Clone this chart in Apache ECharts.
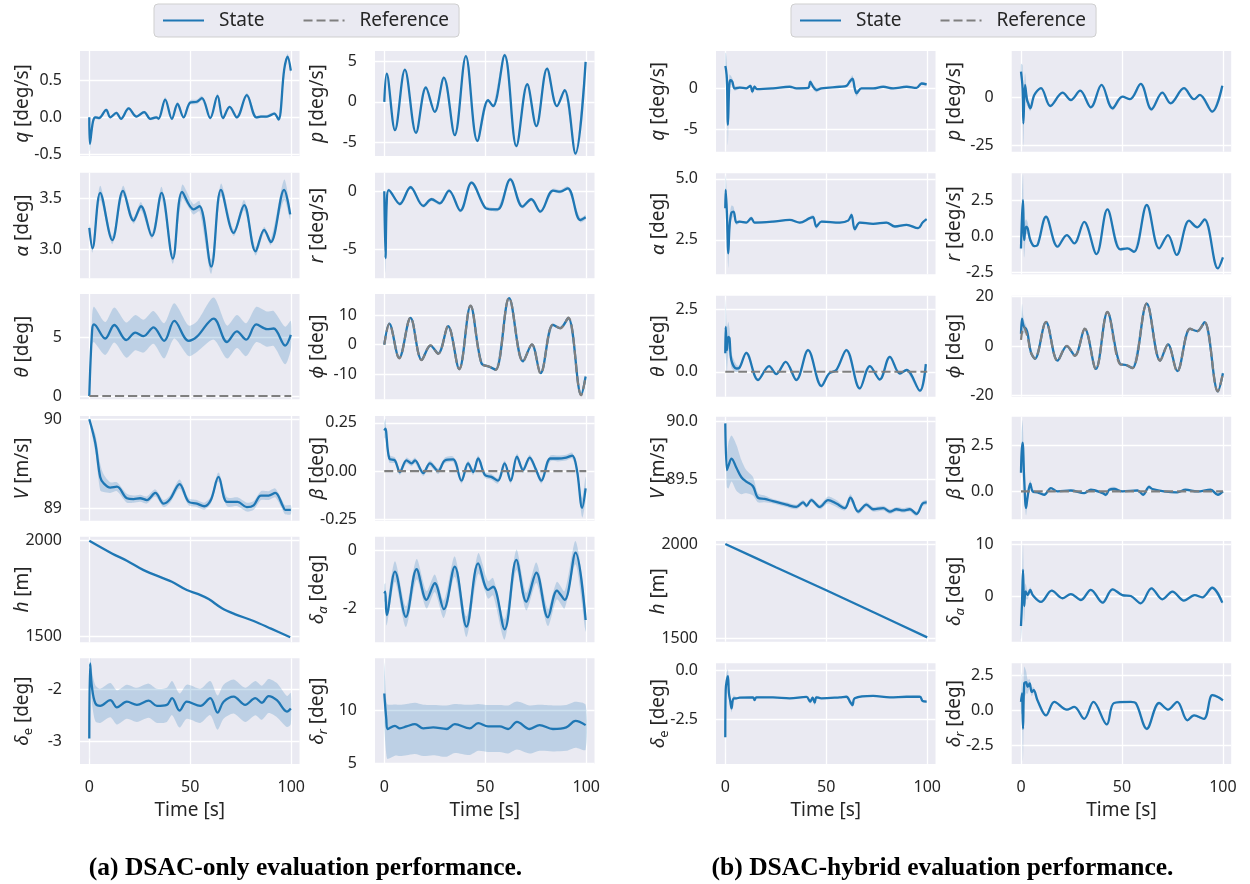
<!DOCTYPE html>
<html><head><meta charset="utf-8">
<script src="https://cdn.jsdelivr.net/npm/echarts@6/dist/echarts.min.js"></script>
<style>html,body{margin:0;padding:0;background:#fff}#c{width:1250px;height:884px}</style>
</head><body><div id="c"></div>
<script>
// ---------- DATA: [time, mean, band-down, (band-up)] ----------
const aQ=[[0,0,0.03],[0.3,-0.36,0.1],[1.8,-0.06,0.04],[3,0.0,0.02],[4.8,-0.01,0.02],[8.4,0.1,0.02],[10.4,0,0.02],[13.4,0.06,0.02],[15.7,-0.02,0.02],[19.5,0.12,0.02],[23.3,0.01,0.02],[27.2,0.07,0.02],[30.2,-0.02,0.02],[33.2,0,0.02],[34.3,-0.02,0.02],[37.6,0.24,0.03],[40.9,-0.02,0.02],[43.7,0.18,0.03],[46.7,0,0.02],[50,0.2,0.03],[53.3,0.21,0.03],[55.8,0.26,0.03],[59.9,-0.01,0.02],[63.5,0.29,0.03],[66.2,-0.01,0.02],[69.5,0.14,0.02],[73.1,0,0.02],[78,0.3,0.03],[82.7,0,0.02],[85,0.01,0.02],[88,0.01,0.02],[91.6,0.05,0.02],[93.7,-0.03,0.02],[96.5,0.64,0.04],[98.2,0.82,0.04],[99.8,0.63,0.04]];
const aAlpha=[[0,3.21,0.04],[1.6,3.01,0.04],[5.4,3.55,0.07],[11.4,3.09,0.04],[16.7,3.57,0.05],[21.9,3.28,0.03],[25.6,3.42,0.04],[31,3.13,0.03],[35.8,3.55,0.06],[41.4,2.91,0.05],[46,3.56,0.07],[51.6,3.39,0.05],[54.6,3.42,0.05],[60.4,2.83,0.07],[65.2,3.58,0.06],[71.5,3.16,0.03],[76.7,3.43,0.05],[82.3,2.98,0.04],[86.6,3.19,0.03],[89.9,3.07,0.03],[96.5,3.58,0.1],[99.5,3.34,0.05]];
const aTheta=[[0,0,0],[1.4,5.6,1.2],[2.3,6.1,1.5],[7.9,4.9,1.4],[12.4,6.05,1.5],[18.3,4.77,1.5],[22.8,5.4,1.5],[26.9,5.1,1.4],[31.8,5.85,1.4],[37.1,4.7,1.5],[42.1,6.4,1.5],[49.2,4.7,1.3],[53.3,5.05,1.3],[61.6,6.6,1.8],[68.2,4.6,1.4],[73.1,5.5,1.4],[77.7,4.8,1.4],[82.7,6.1,1.5],[88,5.7,1.5],[91.3,5.75,1.5],[97,4.3,1.6],[99.8,5.2,1.2]];
const aThetaRef=[[0,0],[100,0]];
const aV=[[0,90.0,0.01],[3,89.73,0.1],[5.4,89.35,0.15],[7.1,89.28,0.1],[10.4,89.23,0.06],[13.7,89.24,0.05],[18.6,89.11,0.05],[21.9,89.1,0.04],[25.2,89.11,0.04],[28.5,89.09,0.04],[32.7,89.17,0.04],[36.8,89.05,0.04],[40,89.1,0.04],[44.7,89.27,0.05],[49.2,89.07,0.04],[53.3,89.05,0.04],[56.9,89.02,0.04],[60.2,89.09,0.04],[64,89.35,0.05],[68.2,89.07,0.05],[73.4,89.07,0.05],[78,89.01,0.05],[81.4,89.03,0.05],[85,89.14,0.05],[88.8,89.14,0.05],[92.1,89.17,0.05],[95.9,89.02,0.05],[97,88.98,0.05],[99.8,88.98,0.05]];
const aH=[[0,2000,0],[11.2,1934,0],[18.6,1896,0],[26.9,1847,0],[40.9,1786,0],[48.3,1743,0],[54,1722,0],[59.1,1696,0],[65.7,1648,0],[72,1618,0],[81.4,1582,0],[90,1542,0],[99.5,1497,0]];
const aDe=[[0,-2.95,0.4],[0.4,-1.5,0.15],[1.3,-1.95,0.3],[3,-2.27,0.35],[5.4,-2.32,0.33],[10.4,-2.21,0.33],[13.7,-2.35,0.33],[18.6,-2.24,0.33],[23.6,-2.3,0.33],[29.4,-2.22,0.33],[33.5,-2.32,0.33],[38.4,-2.3,0.33],[41,-2.17,0.33],[44.7,-2.41,0.33],[48.3,-2.24,0.33],[55,-2.32,0.33],[59.9,-2.17,0.33],[63.5,-2.45,0.33],[66.5,-2.24,0.33],[71.5,-2.14,0.33],[77.2,-2.3,0.33],[82.2,-2.17,0.33],[85.5,-2.26,0.33],[88.8,-2.13,0.33],[92.9,-2.21,0.33],[97.9,-2.43,0.3],[99.8,-2.37,0.3]];
const aP=[[0,0,0.1],[1.2,3.47,0.15],[5.3,-3.47,0.15],[10.2,3.96,0.15],[15.7,-3.8,0.15],[20.6,1.76,0.15],[25,-1.22,0.15],[29.5,2.98,0.15],[34.9,-4.08,0.15],[40.4,5.6,0.2],[46.1,-4.78,0.2],[51.4,0.2,0.15],[53.9,-0.53,0.15],[59.6,5.71,0.2],[65.4,-5.43,0.2],[70.8,2.16,0.15],[75.3,-2.98,0.15],[80.6,4.08,0.15],[85.5,-0.53,0.15],[89.3,1.43,0.15],[94.7,-6.33,0.2],[99.7,4.9,0.2]];
const aR=[[0,0,0.1],[0.6,-5.8,1.3],[1.2,-1.0,0.5],[2.2,0.1,0.15],[7.7,-1.1,0.15],[13,0.35,0.15],[19.3,-1.27,0.15],[23.4,-0.69,0.15],[27.5,-1.04,0.15],[32.1,0.06,0.15],[37.7,-1.68,0.15],[43.2,0.75,0.15],[49.8,-1.39,0.15],[53,-1.56,0.15],[56.3,-1.56,0.15],[62.4,1.04,0.15],[68.4,-1.33,0.15],[72.8,-0.69,0.15],[77.3,-1.76,0.15],[83.5,0.06,0.15],[87.1,-0.03,0.15],[90.9,0.26,0.15],[97,-2.49,0.2],[99.7,-2.25,0.2]];
const aPhi=[[0,0,0.2],[2.5,7.1,0.3],[7.4,-4.5,0.3],[13,9.0,0.3],[18.5,-5.1,0.3],[22.9,-0.3,0.3],[26.7,-3.0,0.3],[31.6,6.2,0.3],[37.1,-8.2,0.3],[42.7,13.1,0.3],[48.1,-6.2,0.3],[52.2,-7.5,0.3],[55.2,-8.4,0.3],[61.8,15.7,0.3],[68.7,-5.6,0.3],[73.1,0,0.3],[77.4,-9.6,0.3],[83.5,6.7,0.3],[87.1,5.6,0.3],[91.1,9.0,0.3],[97.5,-16.9,0.5],[99.7,-10.7,0.5]];
const aPhiRef=[[0,0],[2.5,7.0],[7.4,-4.6],[13,9.1],[18.5,-5.2],[22.9,-0.2],[26.7,-3.1],[31.6,6.3],[37.1,-8.3],[42.7,13.2],[48.1,-6.3],[52.2,-7.4],[55.2,-8.5],[61.8,15.8],[68.7,-5.7],[73.1,0.1],[77.4,-9.7],[83.5,6.8],[87.1,5.5],[91.1,9.1],[97.5,-17.0],[99.7,-11.0]];
const aBeta=[[0,0.21,0.04],[0.5,0.22,0.05],[2.5,0.064,0.02],[5.3,0.055,0.015],[7.7,-0.005,0.015],[11,0.055,0.015],[13.5,0.04,0.015],[15.2,0.055,0.015],[19.3,-0.01,0.015],[22.6,0.04,0.015],[26.7,0,0.015],[30,0.055,0.015],[34.1,0.06,0.015],[38.2,-0.05,0.015],[41.5,0.04,0.015],[44,-0.005,0.015],[46.5,0.065,0.015],[49.8,-0.02,0.015],[53,-0.03,0.015],[56.3,-0.05,0.015],[59.6,0.04,0.015],[62.6,-0.05,0.015],[65.7,0.075,0.015],[68.7,0.005,0.015],[72,0.07,0.015],[75,0.01,0.015],[77.8,-0.05,0.015],[82.2,0.065,0.015],[86,0.065,0.015],[90.1,0.07,0.015],[93.1,0.08,0.015],[95.4,0.005,0.02],[98,-0.19,0.05],[99.7,-0.09,0.06]];
const aBetaRef=[[0,0],[100,0]];
const aDa=[[0,-1.49,0.3],[0.5,-1.43,0.3],[1.2,-2.23,0.35],[5.3,-0.74,0.35],[10.7,-2.29,0.35],[16,-0.66,0.35],[20.9,-1.71,0.3],[25,-1.14,0.3],[29.5,-2.03,0.3],[34.9,-0.57,0.35],[40.7,-2.63,0.35],[46.5,-0.46,0.35],[51.4,-1.37,0.3],[53.9,-1.26,0.3],[59.6,-2.72,0.35],[65.4,-0.34,0.35],[70.3,-1.77,0.3],[75.3,-0.78,0.35],[81,-2.31,0.3],[85.5,-1.39,0.3],[89.3,-1.71,0.3],[94.7,-0.09,0.4],[99.7,-2.4,0.4]];
const aDr=[[0,11.57,3.0,2.9],[1,9.16,3.3,1.8],[1.6,8.25,2.8,2.3],[5.3,8.55,2.8,2.0],[7.7,8.31,2.6,2.2],[11,8.49,2.7,2.1],[15.2,8.7,2.8,2.0],[19.3,8.31,2.6,2.2],[24.2,8.4,2.6,2.1],[30.8,8.25,2.6,2.2],[34.9,8.7,2.7,1.9],[42.3,8.31,2.5,2.2],[46.5,8.8,2.6,1.8],[51.4,8.49,2.4,2.0],[57.2,8.49,2.4,2.0],[61.3,8.25,2.3,2.2],[65.7,8.92,2.6,1.9],[72,8.25,2.3,2.2],[76.9,8.61,2.4,1.9],[83.5,8.25,2.1,2.2],[90.1,8.4,2.2,2.1],[94.7,9.0,2.5,1.8],[99.7,8.61,2.3,1.9]];

const bQ=[[0,2.76,1.5],[0.3,2.4,2],[0.8,1.2,2],[1.3,-4.5,2.5],[2,0.5,1.2],[2.6,1.0,0.6],[3.5,0.8,0.4],[4.6,0,0.3],[7.1,0.1,0.15],[10.4,0,0.1],[12.4,0.3,0.2],[13.4,-0.4,0.3],[14.5,0.2,0.2],[15.7,-0.1,0.1],[23.6,0,0.1],[31.9,0.2,0.1],[35.2,0,0.1],[41,0.05,0.1],[42.1,0.8,0.3],[43.5,0.2,0.3],[45.1,-0.2,0.3],[47.6,0,0.1],[56.7,0.2,0.1],[60,0.3,0.15],[61.7,0.87,0.3],[63,1.2,0.4],[64.1,0,0.4],[65,-0.6,0.4],[67.4,0,0.1],[73.2,0,0.1],[78.2,0.2,0.1],[83.1,0,0.1],[89.8,0.2,0.1],[94.7,0.05,0.1],[97.2,0.6,0.15],[99.7,0.5,0.15]];
const bAlpha=[[0,3.8,0.5],[0.2,4.55,0.6],[0.8,3.6,0.8],[1.5,1.95,0.6],[2.1,3.05,0.4],[3,3.6,0.3],[4.1,3.66,0.2],[5.5,3.21,0.1],[7.1,3.25,0.05],[10.4,3.21,0.05],[12.9,3.39,0.08],[14.5,3.21,0.05],[23.6,3.25,0.04],[31.9,3.32,0.04],[36.9,3.21,0.04],[41.8,3.39,0.06],[43.5,3.43,0.1],[45.1,3.05,0.1],[47.6,3.25,0.05],[56.7,3.21,0.04],[60.8,3.29,0.05],[62.5,3.52,0.1],[64.1,2.94,0.1],[66.6,3.21,0.05],[73.2,3.16,0.04],[79.8,3.21,0.04],[84,3.05,0.04],[89.8,3.12,0.04],[95.5,2.98,0.04],[97.7,3.21,0.04],[99.7,3.35,0.04]];
const bTheta=[[0,0.74,0.3],[0.2,1.8,1.1],[0.8,0.87,0.9],[1.5,1.4,0.6],[2.1,1.34,0.4],[3,0.47,0.3],[5.5,0.13,0.15],[7.1,0.17,0.08],[10.4,0.76,0.06],[16.2,-0.33,0.05],[21.7,0.23,0.05],[25.3,-0.09,0.05],[29.9,0.4,0.05],[35.2,-0.33,0.05],[41,0.87,0.06],[47.6,-0.57,0.06],[51.4,-0.07,0.05],[55,0.07,0.05],[60,0.87,0.06],[66.6,-0.67,0.06],[71.6,0.23,0.05],[76.5,-0.31,0.05],[81.5,0.6,0.05],[86.4,-0.07,0.05],[89.8,0.07,0.05],[96.4,-0.76,0.06],[99.3,0.31,0.06]];
const bThetaRef=[[0,0],[100,0]];
const bV=[[0,89.985,0.01],[0.8,89.58,0.15],[1.6,89.62,0.2],[3.1,89.68,0.2],[5.5,89.6,0.2],[7.9,89.52,0.15],[10.4,89.48,0.1],[13.7,89.44,0.08],[16.2,89.34,0.04],[19.5,89.33,0.03],[23.6,89.31,0.02],[30.2,89.28,0.02],[35.2,89.26,0.02],[38.5,89.3,0.02],[40.2,89.27,0.02],[42.6,89.32,0.02],[46.8,89.26,0.02],[50.9,89.32,0.03],[55,89.29,0.03],[59.2,89.25,0.02],[62,89.34,0.03],[65.8,89.22,0.02],[69.9,89.28,0.02],[73.2,89.24,0.02],[78.2,89.25,0.02],[81.5,89.22,0.02],[84.8,89.24,0.02],[88.1,89.23,0.02],[91.4,89.24,0.02],[94.7,89.2,0.02],[97.7,89.29,0.02],[99.7,89.3,0.02]];
const bH=[[0,2000,0],[25,1877,0],[50,1755,0],[75,1630,0],[100,1505,0]];
const bDe=[[0,-3.45,1.1],[0.2,-1.0,0.6],[1.3,-0.28,0.35],[1.8,-1.17,0.3],[2.5,-1.6,0.3],[3.1,-1.95,0.2],[4.1,-1.43,0.15],[5.5,-1.43,0.05],[7.1,-1.4,0.04],[13.7,-1.38,0.04],[14.5,-1.52,0.08],[15.4,-1.38,0.05],[23.6,-1.38,0.03],[31.9,-1.43,0.03],[40.2,-1.36,0.04],[42.1,-1.6,0.1],[43.2,-1.4,0.1],[44.3,-1.65,0.15],[45.1,-1.38,0.08],[47.6,-1.43,0.03],[56.7,-1.38,0.03],[60,-1.35,0.05],[62,-1.65,0.12],[63,-1.78,0.12],[64.1,-1.43,0.06],[73.2,-1.31,0.03],[81.5,-1.38,0.03],[89.8,-1.35,0.03],[96.4,-1.35,0.03],[97.7,-1.57,0.05],[99.7,-1.6,0.05]];
const bP=[[0,13.3,4],[0.8,4.7,12],[1.2,-13.4,12],[2,6.4,6],[3,-1.4,3],[3.6,-3.1,2],[4.6,-5.7,1.5],[6.6,1.2,0.8],[9.9,4.7,0.6],[14.5,-4.5,0.6],[20.6,2.4,0.5],[24.7,-1.4,0.5],[29.3,3.4,0.5],[34.6,-5.2,0.6],[39.9,6.4,0.6],[45.3,-5.7,1.0],[50.2,0.3,0.5],[54,-1.0,0.5],[59.3,6.9,0.6],[64.6,-6.2,1.0],[70,2.4,0.5],[74.1,-3.1,0.5],[80.7,4.7,0.5],[85.7,-1.0,0.5],[88.6,1.2,0.5],[94.7,-7.4,0.7],[99.7,5.9,0.6]];
const bR=[[0,-0.83,0.3],[0.5,1.35,1.5],[1,2.5,1.8],[1.6,-0.25,1.2],[2.5,0.67,0.5],[3.3,0.55,0.4],[4.6,-0.25,0.2],[6.6,-0.67,0.08],[8.2,-0.6,0.06],[12.4,1.35,0.05],[18.1,-0.71,0.05],[22.7,0.09,0.05],[26.4,-0.48,0.05],[31.3,1.0,0.05],[37.4,-1.22,0.05],[42.8,1.86,0.06],[49.1,-0.89,0.05],[52.7,-0.83,0.05],[56,-1.06,0.05],[62.3,2.16,0.06],[68.4,-0.83,0.05],[72.8,0.09,0.05],[77.1,-1.28,0.05],[83.2,1.08,0.05],[87.3,0.62,0.05],[90.9,1.17,0.05],[97.5,-2.2,0.06],[100,-1.44,0.06]];
const bPhi=[[0,5,1.5],[0.5,11.1,6],[1,9,4],[1.6,7.7,2.5],[2.5,7.0,1.5],[3.3,5.0,0.8],[4.9,-2.4,0.5],[6.9,-5.1,0.4],[12.4,9.7,0.3],[18.1,-5.8,0.3],[22.7,0,0.3],[26.7,-3.8,0.3],[31.6,7.0,0.3],[37.1,-9.2,0.3],[42.8,13.8,0.3],[49.1,-7.2,0.3],[51.9,-7.6,0.3],[55.2,-8.8,0.3],[62.3,17.2,0.3],[68.9,-5.8,0.3],[72.8,0.7,0.3],[77.4,-10.1,0.3],[83.7,7.0,0.3],[87.3,6.1,0.3],[90.9,9.7,0.3],[97.5,-18.2,0.5],[100,-10.9,0.5]];
const bPhiRef=[[0,2.6],[1.3,7.7],[3.3,3.6],[4.9,-2.5],[6.9,-5.0],[12.4,9.8],[18.1,-5.9],[22.7,0.1],[26.7,-3.9],[31.6,7.1],[37.1,-9.3],[42.8,13.9],[49.1,-7.3],[51.9,-7.5],[55.2,-8.9],[62.3,17.3],[68.9,-5.9],[72.8,0.6],[77.4,-10.2],[83.7,7.1],[87.3,6.0],[90.9,9.8],[97.5,-18.3],[100,-11.0]];
const bBeta=[[0,1.0,0.3],[0.3,2.08,1.0],[0.8,2.63,1.2],[1.6,0.63,0.8],[2.5,-0.9,0.4],[3.3,-0.27,0.3],[4.6,0.42,0.2],[5.8,0,0.1],[8.2,-0.05,0.05],[11.5,-0.18,0.05],[14.8,0.18,0.06],[18.1,0,0.04],[24.7,0.05,0.04],[31.3,-0.09,0.04],[34.6,0.09,0.04],[40.4,-0.09,0.05],[42,-0.18,0.1],[43.7,0.09,0.1],[46.1,0.13,0.12],[50.2,0,0.04],[57.7,0.05,0.04],[60.5,-0.18,0.08],[63.4,0.24,0.12],[65.1,0.13,0.06],[70.8,0,0.04],[77.4,-0.05,0.04],[81.5,0.09,0.04],[87.3,0,0.04],[93.9,0.09,0.04],[97.5,-0.18,0.05],[100,0,0.05]];
const bBetaRef=[[0,0],[100,0]];
const bDa=[[0,-5.6,2.5],[0.5,-1.3,4],[1,5.1,5],[1.6,-1.8,3],[2.3,1.0,1.5],[3.3,0.3,0.8],[4.6,1.3,0.5],[5.8,0.3,0.3],[9.9,-1.0,0.2],[15.2,1.15,0.2],[20.6,-0.3,0.2],[24.7,0.5,0.2],[29.7,-0.64,0.2],[34.6,1.3,0.2],[40.4,-1.15,0.25],[45.3,1.4,0.25],[50.2,0.3,0.2],[54.4,0.13,0.2],[59.3,-1.27,0.2],[64.6,1.6,0.25],[70,-0.5,0.2],[75,0.96,0.2],[80.7,-0.76,0.2],[86,0.3,0.2],[89.8,-0.13,0.2],[94.7,1.7,0.25],[99.7,-1.15,0.25]];
const bDr=[[0,0.6,0.8],[0.5,1.2,1.5],[1,-1.3,2.3],[1.6,1.9,1.2],[2.5,2.0,0.8],[3.3,1.67,0.5],[4.3,1.9,0.3],[5.3,1.3,0.3],[6.3,1.43,0.2],[8.2,0.7,0.15],[12.4,-0.36,0.1],[16.5,0.6,0.08],[22.7,0.05,0.06],[26.4,0.24,0.06],[31.3,-0.6,0.06],[35.9,0.6,0.06],[42.5,-1.0,0.1],[46.1,0.52,0.06],[54.4,0.6,0.05],[56.8,0.52,0.05],[62.3,-1.31,0.12],[68.4,0.52,0.06],[72.8,0.05,0.06],[77.4,0.6,0.06],[82.4,-0.71,0.06],[85.7,-0.36,0.06],[90.6,-0.6,0.06],[94.7,1.07,0.08],[97.5,0.95,0.08],[100,0.71,0.08]];

// ---------- tick labels ----------
const xTicks=['0','50','100'];
const ticksA=[['-0.5','0.0','0.5'],['3.0','3.5'],['0','5'],['89','90'],['1500','2000'],['-3','-2'],
              ['-5','0','5'],['-5','0'],['-10','0','10'],['-0.25','0.00','0.25'],['-2','0'],['5','10']];
const ticksB=[['-5','0'],['2.5','5.0'],['0.0','2.5'],['89.5','90.0'],['1500','2000'],['-2.5','0.0'],
              ['-25','0'],['-2.5','0.0','2.5'],['-20','0','20'],['0.0','2.5'],['0','10'],['-2.5','0.0','2.5']];
const rangesA=[[-0.523,0.896],[2.717,3.747],[-0.28,8.69],[88.857,90.037],[1471,2021],[-3.445,-1.4],
               [-6.63,6.23],[-7.54,1.61],[-18.4,17.07],[-0.257,0.285],[-3.165,0.456],[4.97,14.87]];
const rangesB=[[-7.8,4.6],[1.09,5.23],[-1.0,3.05],[89.153,90.043],[1482,2016],[-4.83,0.38],
               [-28.1,23.9],[-2.61,4.34],[-20.4,20.4],[-1.5,4.02],[-8.6,10.63],[-3.8,3.33]];
const yNames=['{i|q} [deg/s]','{i|α} [deg]','{i|θ} [deg]','{i|V} [m/s]','{i|h} [m]','{i|δ}{s|e} [deg]',
              '{i|p} [deg/s]','{i|r} [deg/s]','{i|ϕ} [deg]','{i|β} [deg]','{i|δ}{si|a} [deg]','{i|δ}{si|r} [deg]'];
const seriesA=[aQ,aAlpha,aTheta,aV,aH,aDe,aP,aR,aPhi,aBeta,aDa,aDr];
const refsA=[null,null,aThetaRef,null,null,null,null,null,aPhiRef,aBetaRef,null,null];
const seriesB=[bQ,bAlpha,bTheta,bV,bH,bDe,bP,bR,bPhi,bBeta,bDa,bDr];
const refsB=[null,null,bThetaRef,null,null,null,null,null,bPhiRef,bBetaRef,null,null];

// ---------- layout ----------
const FONT='"Noto Sans","DejaVu Sans",sans-serif';
const TXT='#262626';
const BLUE='#1f77b4';
const colLeft=[80,375,716,1011.7];
const colW=219.5;
const rowsA=[[51,156],[172.7,278.3],[294,399.3],[416,520.7],[536.7,642.3],[658.3,764]];
const rowsB=[[51,151.7],[173.3,274.3],[295.7,396.7],[416.7,519.3],[541,641.7],[663.3,764]];
const XMIN=-4.6, XMAX=104.1;

const grids=[],xAxes=[],yAxes=[],series=[];
function decimalsOf(s){const k=s.indexOf('.');return k<0?0:s.length-k-1;}
function addPlot(panel,k){
  const col=(panel==='a'?0:2)+(k<6?0:1);
  const row=k%6;
  const rows=panel==='a'?rowsA:rowsB;
  const data=panel==='a'?seriesA[k]:seriesB[k];
  const ref=panel==='a'?refsA[k]:refsB[k];
  const rng=panel==='a'?rangesA[k]:rangesB[k];
  const tk=panel==='a'?ticksA[k]:ticksB[k];
  const gi=grids.length;
  grids.push({left:colLeft[col],top:rows[row][0],width:colW,height:rows[row][1]-rows[row][0],
    backgroundColor:'#eaeaf2',show:true,borderWidth:0,outerBoundsMode:'none'});
  const bottom=row===5;
  xAxes.push({gridIndex:gi,type:'value',min:XMIN,max:XMAX,
    axisLine:{show:false},axisTick:{show:false,customValues:xTicks.map(Number)},
    axisLabel:{show:bottom,customValues:xTicks.map(Number),fontSize:16,color:TXT,fontFamily:FONT,margin:15,
      formatter:v=>String(v)},
    splitLine:{show:true,lineStyle:{color:'#ffffff',width:1.3}},
    name:bottom?'Time [s]':'',nameLocation:'middle',nameGap:37,
    nameTextStyle:{fontSize:19,color:TXT,fontFamily:FONT},nameMoveOverlap:false});
  const dec=decimalsOf(tk[tk.length-1]);
  yAxes.push({gridIndex:gi,type:'value',min:rng[0],max:rng[1],
    axisLine:{show:false},axisTick:{show:false,customValues:tk.map(Number)},
    axisLabel:{customValues:tk.map(Number),fontSize:16,color:TXT,fontFamily:FONT,margin:18,
      formatter:v=>Number(v).toFixed(dec)},
    splitLine:{show:true,lineStyle:{color:'#ffffff',width:1.3}},
    name:yNames[k],nameLocation:'middle',nameRotate:90,nameGap:45,nameMoveOverlap:false,
    nameTextStyle:{fontSize:19,color:TXT,fontFamily:FONT,lineHeight:24,
      rich:{i:{fontSize:19,color:TXT,fontFamily:FONT,fontStyle:'italic',lineHeight:24},
            s:{fontSize:13,color:TXT,fontFamily:FONT,lineHeight:12,verticalAlign:'bottom'},
            si:{fontSize:13,color:TXT,fontFamily:FONT,fontStyle:'italic',lineHeight:12,verticalAlign:'bottom'}}}});
  // uncertainty band
  series.push({type:'custom',xAxisIndex:gi,yAxisIndex:gi,silent:true,z:1,data:[0],
    renderItem:function(params,api){
      const up=data.map(p=>api.coord([p[0],p[1]+(p.length>3?p[3]:p[2])]));
      const lo=data.map(p=>api.coord([p[0],p[1]-p[2]])).reverse();
      const cs=params.coordSys;
      return {type:'polygon',shape:{points:up.concat(lo),smooth:0.25},
        style:{fill:'rgba(31,119,180,0.22)',stroke:null},
        clipPath:{type:'rect',shape:{x:cs.x,y:cs.y,width:cs.width,height:cs.height}}};
    }});
  series.push({type:'line',name:'State',xAxisIndex:gi,yAxisIndex:gi,z:3,silent:true,
    data:data.map(p=>[p[0],p[1]]),symbol:'none',showSymbol:false,smooth:0.35,
    lineStyle:{color:BLUE,width:2.3},itemStyle:{color:BLUE}});
  if(ref){
    series.push({type:'line',name:'Reference',xAxisIndex:gi,yAxisIndex:gi,z:4,silent:true,
      data:ref,symbol:'none',showSymbol:false,smooth:0.35,
      lineStyle:{color:'#7f7f7f',width:2.2,type:[9,4]},itemStyle:{color:'#7f7f7f'}});
  }
}
for(let k=0;k<12;k++) addPlot('a',k);
for(let k=0;k<12;k++) addPlot('b',k);

function legendAt(x){
  return {left:x,top:4,orient:'horizontal',
    data:[{name:'State'},{name:'Reference'}],
    backgroundColor:'#eaeaf2',borderColor:'#cfcfcf',borderWidth:1,borderRadius:4,
    padding:[7,10,7,8],itemWidth:41,itemHeight:14,itemGap:38,selectedMode:false,
    itemStyle:{opacity:0,borderWidth:0},
    textStyle:{fontSize:19,color:TXT,fontFamily:FONT,padding:[0,0,0,10]}};
}

const chart=echarts.init(document.getElementById('c'),null,{renderer:'canvas'});
chart.setOption({
  animation:false,
  backgroundColor:'#ffffff',
  textStyle:{fontFamily:FONT},
  legend:[legendAt(154),legendAt(791)],
  grid:grids,xAxis:xAxes,yAxis:yAxes,series:series,
  graphic:[
    {type:'text',x:305.5,y:868,style:{text:'(a) DSAC-only evaluation performance.',
      font:'bold 25.5px "Liberation Serif"',fill:'#000',textAlign:'center',textVerticalAlign:'middle',verticalAlign:'middle'}},
    {type:'text',x:942.5,y:868,style:{text:'(b) DSAC-hybrid evaluation performance.',
      font:'bold 25.5px "Liberation Serif"',fill:'#000',textAlign:'center',textVerticalAlign:'middle',verticalAlign:'middle'}}
  ]
});
</script></body></html>
